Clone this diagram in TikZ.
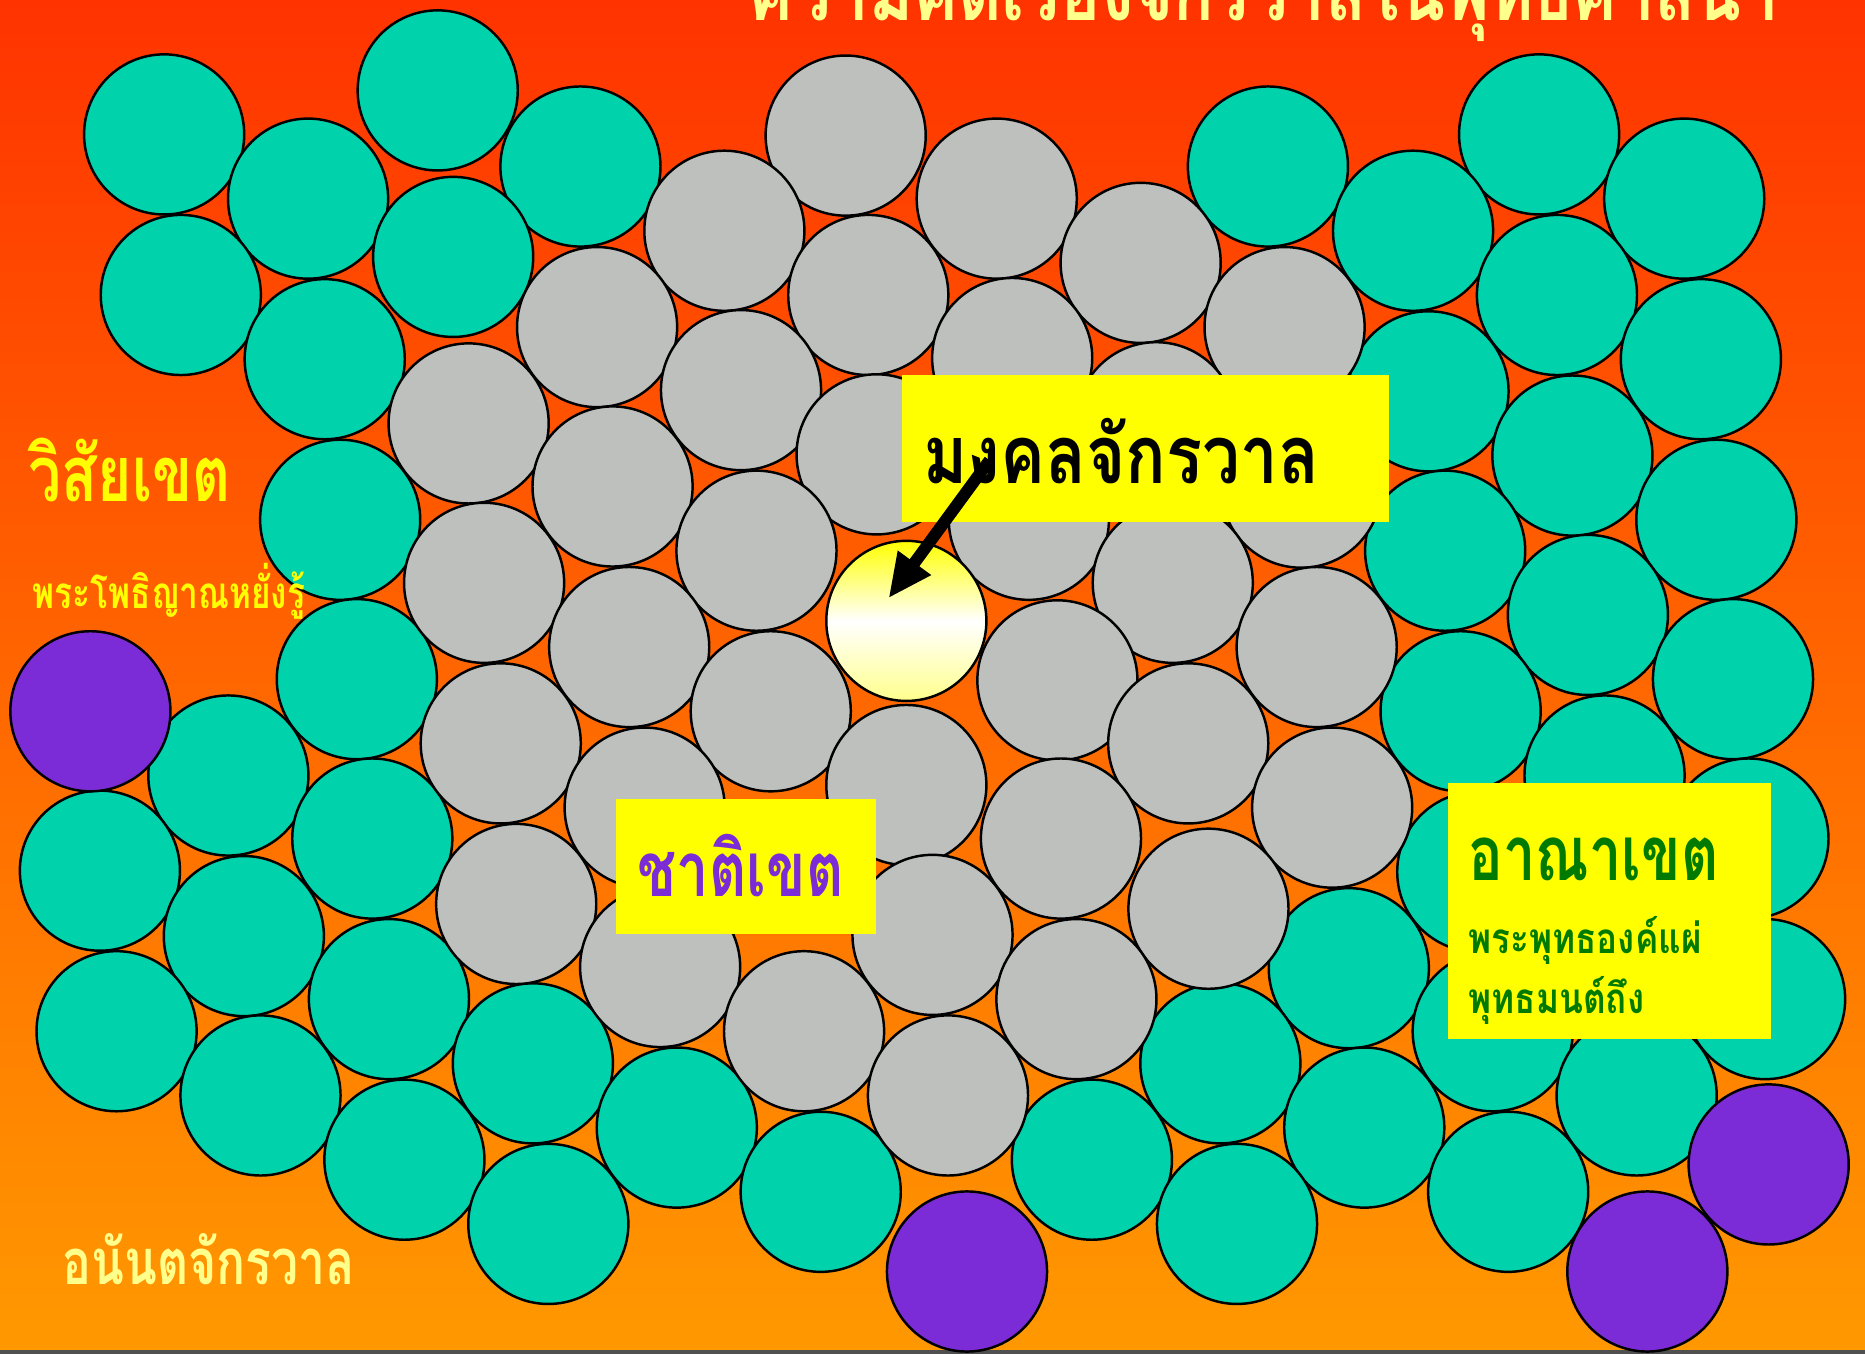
\documentclass[tikz,border=0pt]{standalone}
\usepackage{fontspec}
\newfontfamily\thaiwide[Script=Thai,FakeStretch=0.83]{Loma}
\newfontfamily\thainarrow[Script=Thai,FakeStretch=0.76]{Loma}
\usetikzlibrary{arrows.meta,positioning}
\definecolor{BgTop}{HTML}{FF3300}
\definecolor{BgBot}{HTML}{FF9900}
\definecolor{Teal}{HTML}{00D2AC}
\definecolor{Stone}{HTML}{BEC0BE}
\definecolor{Violet}{HTML}{7B2CD6}
\definecolor{Lemon}{HTML}{FFFF00}
\definecolor{Cream}{HTML}{FFFF8C}
\definecolor{Leaf}{HTML}{007A00}
\definecolor{Edge}{HTML}{505050}

\begin{document}
\begin{tikzpicture}[x=0.011894cm, y=-0.011894cm,
  orb/.style={circle, draw=black, line width=0.7pt, inner sep=0pt, minimum size=1.6cm},
  tq/.style={orb, fill=Teal},
  gy/.style={orb, fill=Stone},
  pp/.style={orb, fill=Violet},
  tag/.style={fill=Lemon, anchor=north west, inner ysep=0pt, align=left},
  lbl/.style={anchor=base west, inner sep=0pt},
  >={Triangle[length=0.44cm, width=0.38cm]}
]
  \useasboundingbox (0,0) rectangle (1568,1138);
  \clip (0,0) rectangle (1568,1138);
  \shade[top color=BgTop, bottom color=BgBot] (0,0) rectangle (1568,1138);
  \fill[Edge] (0,1135) rectangle (1568,1138);

  \foreach \x/\y [count=\i] in {138/113, 368/76, 259/167, 488/140, 152/248, 381/216,
      273/302, 286/437, 300/571, 192/652, 313/705, 84/732, 205/787, 327/840, 98/867,
      219/921, 448/894, 340/975, 461/1029, 569/948, 690/1002,
      1066/140, 1294/113, 1188/194, 1416/167, 1309/248, 1201/329, 1430/302, 1322/383,
      1215/463, 1443/437, 1335/517, 1228/598, 1457/571, 1349/652, 1242/733, 1470/705,
      1363/787, 1134/814, 1255/867, 1484/840, 1376/921, 1026/894, 1147/948, 918/975,
      1040/1029, 1268/1002}
    \node[tq] (tq\i) at (\x,\y) {};

  \foreach \x/\y [count=\i] in {711/114, 838/167, 609/194, 730/248, 959/221, 502/275,
      851/301, 1080/275, 623/328, 394/356, 737/382, 972/355, 515/409, 865/437, 1094/410,
      407/490, 636/463, 986/490, 529/544, 1107/544, 889/572, 421/625, 648/598, 999/625,
      542/679, 762/660, 892/705, 1120/679, 434/760, 784/786, 1016/764, 555/813, 676/867,
      905/840, 797/921}
    \node[gy] (gy\i) at (\x,\y) {};

  \foreach \x/\y [count=\i] in {76/598, 813/1069, 1487/979, 1385/1069}
    \node[pp] (pp\i) at (\x,\y) {};

  \node[orb, top color=Lemon, bottom color=Lemon!45!white, middle color=white] (sun) at (762,522) {};

  \node[tag, text height=1.082cm, text depth=0.381cm, text width=4.436cm, inner xsep=0.214cm,
    font={\thaiwide\bfseries\fontsize{23pt}{28pt}\selectfont}] (mongkol) at (758,315) {มงคลจักรวาล};
  \node[tag, text=Violet, text height=0.979cm, text depth=0.370cm, text width=2.16cm, inner xsep=0.22cm,
    font={\thainarrow\bfseries\fontsize{21.6pt}{26pt}\selectfont}] (chati) at (517,671) {ชาติเขต};
  \node[tag, text=Leaf, text height=0.980cm, text depth=1.580cm, text width=2.812cm, inner xsep=0.209cm,
    font={\thaiwide\bfseries\fontsize{12pt}{0.6cm}\selectfont}] (ana) at (1216.6,657.5)
    {{\thainarrow\fontsize{21.6pt}{0.6cm}\selectfont อาณาเขต}\\[0.13cm]พระพุทธองค์แผ่\\พุทธมนต์ถึง};

  \node[lbl, text=Lemon, font={\thainarrow\bfseries\fontsize{22pt}{26pt}\selectfont}] (visai) at (23.5,422) {วิสัยเขต};
  \node[lbl, text=Lemon, font={\thainarrow\bfseries\fontsize{12.5pt}{15pt}\selectfont}] (bodhi) at (27,512) {พระโพธิญาณหยั่งรู้};
  \node[lbl, text=Cream, font={\thainarrow\bfseries\fontsize{18pt}{22pt}\selectfont}] (anant) at (52,1080) {อนันตจักรวาล};
  \node[lbl, text=Cream, font={\thaiwide\bfseries\fontsize{23pt}{28pt}\selectfont}] (title) at (629,17) {ความคิดเรื่องจักรวาลในพุทธศาสนา};

  \coordinate (tail) at ([shift={(74,72)}]mongkol.north west);
  \coordinate (tip) at ([shift={(-15,-19)}]sun.center);
  \draw[->, line width=3.4pt] (tail) -- (tip);
\end{tikzpicture}
\end{document}
